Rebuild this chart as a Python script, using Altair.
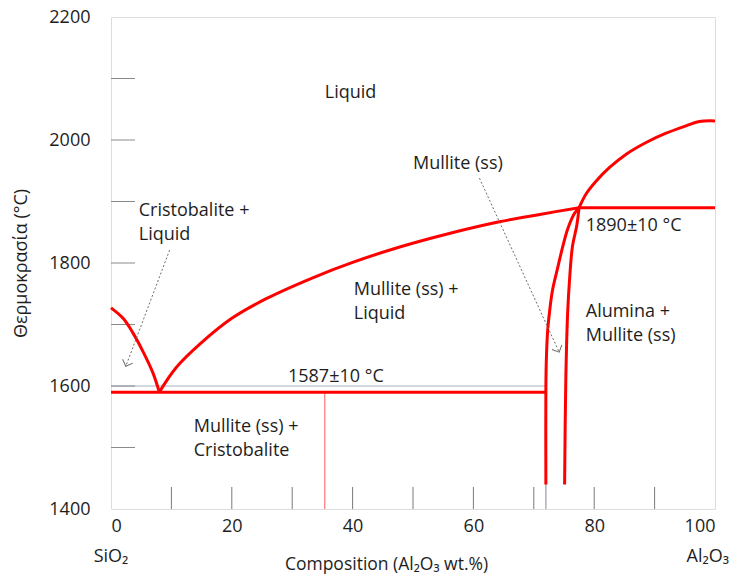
import math
import altair as alt
import pandas as pd

W, H = 604, 492
FONT = "Open Sans"
TXT = "#1E1E1E"

# ---- phase boundary curves (x = wt.% Al2O3, t = temperature °C) ----
cristo_x = [0, 2.0, 3.65, 5.3, 6.96, 8]
cristo_t = [1727, 1710, 1686, 1656, 1621, 1590]

mull_liq_x = [8, 10.8, 14.7, 20, 25.7, 33.4, 40, 47.8, 56, 64.3, 71, 77.5]
mull_liq_t = [1590, 1630, 1668, 1710, 1742, 1776, 1801, 1826, 1848, 1867, 1879, 1890]

alum_liq_x = [77.5, 78.7, 80.3, 82.5, 85.3, 88.6, 91.9, 95.2, 97.4, 100]
alum_liq_t = [1890, 1913, 1933, 1955, 1977, 1996, 2011, 2023, 2030, 2031]

sol_left_x = [77.5, 76.7, 75.6, 74.8, 73.9, 73.1, 72.6, 72.3, 72.1, 72.0, 72.0]
sol_left_t = [1890, 1880, 1855, 1827, 1790, 1756, 1720, 1691, 1650, 1600, 1440]

sol_right_x = [77.5, 77.1, 76.4, 75.9, 75.6, 75.3, 75.1]
sol_right_t = [1890, 1860, 1827, 1770, 1718, 1610, 1440]

eut_low_x = [0, 72]
eut_low_t = [1590, 1590]

eut_high_x = [77.5, 100]
eut_high_t = [1890, 1890]

# thin reference lines
grid1600_x = [0, 72]
grid1600_t = [1600, 1600]
vgrid72_x = [72, 72]
vgrid72_t = [1400, 1600]
red_thin_x = [35.4, 35.4]
red_thin_t = [1400, 1590]

# inward axis ticks
y_minor_ticks = [1500, 1600, 1700, 1800, 1900, 2000, 2100]
x_minor_ticks = [10, 20, 30, 40, 50, 60, 70, 80, 90]
x_special_tick = [72]

y_label_values = [1400, 1600, 1800, 2000, 2200]
x_label_values = [0, 20, 40, 60, 80, 100]

# region labels (position of first line)
lab_text = ["Liquid", "Mullite (ss)", "Cristobalite +\nLiquid",
            "Mullite (ss) +\nLiquid", "1587±10 °C",
            "Mullite (ss) +\nCristobalite", "1890±10 °C",
            "Alumina +\nMullite (ss)"]
lab_x = [35.4, 50.0, 4.6, 40.2, 29.3, 13.7, 78.6, 78.6]
lab_t = [2076, 1961, 1885, 1756, 1614, 1534, 1860, 1721]

# composition end members
left_end_text = ["SiO₂"]
left_end_x = [0]
right_end_text = ["Al₂O₃"]
right_end_x = [100]
end_t = [1322]

# dotted arrows
arr_x0 = [9.7, 61.0]
arr_t0 = [1821, 1938]
arr_x1 = [2.45, 74.2]
arr_t1 = [1632, 1655]

# ---- build tables ----
rows = []
for name, xs, ts in [("cristo", cristo_x, cristo_t), ("mliq", mull_liq_x, mull_liq_t),
                     ("aliq", alum_liq_x, alum_liq_t), ("sl", sol_left_x, sol_left_t),
                     ("sr", sol_right_x, sol_right_t), ("el", eut_low_x, eut_low_t),
                     ("eh", eut_high_x, eut_high_t)]:
    for i, (a, b) in enumerate(zip(xs, ts)):
        rows.append({"x": a, "t": b, "g": name, "i": i})
red_df = pd.DataFrame(rows)

def seg_df(xs, ts):
    return pd.DataFrame({"x": xs, "t": ts, "i": list(range(len(xs)))})

xs_ = alt.Scale(domain=[0, 100], nice=False, zero=False)
ys_ = alt.Scale(domain=[1400, 2200], nice=False, zero=False)

x_axis = alt.Axis(values=x_label_values, format="d", ticks=False, domain=False, grid=False,
                  labelFont=FONT, labelFontSize=18, labelColor=TXT, labelPadding=8,
                  title="Composition (Al₂O₃ wt.%)", titleFont=FONT, titleFontSize=17.5,
                  titleFontWeight="normal", titleColor=TXT, titleX=275, titleY=55,
                  titleBaseline="middle", titleAlign="center")
y_axis = alt.Axis(values=y_label_values, format="d", ticks=False, domain=False, grid=False,
                  labelFont=FONT, labelFontSize=18, labelColor=TXT, labelPadding=21,
                  title="Θερμοκρασία (°C)", titleFont=FONT, titleFontSize=18,
                  titleFontWeight="normal", titleColor=TXT, titleX=-90, titleY=H / 2,
                  titleBaseline="middle", titleAlign="center", titleAngle=-90)

def X(f="x"):
    return alt.X(f + ":Q", scale=xs_, axis=x_axis)

def Y(f="t"):
    return alt.Y(f + ":Q", scale=ys_, axis=y_axis)

layers = []

# thin gray 1600 lines
for xs, ts in [(grid1600_x, grid1600_t), (vgrid72_x, vgrid72_t)]:
    layers.append(alt.Chart(seg_df(xs, ts)).mark_line(color="#A7AEBD", strokeWidth=1)
                  .encode(x=X(), y=Y(), order="i:Q"))

# thin red line
layers.append(alt.Chart(seg_df(red_thin_x, red_thin_t)).mark_line(color="#FF5A5A", strokeWidth=1)
              .encode(x=X(), y=Y(), order="i:Q"))

# inward ticks
layers.append(alt.Chart(pd.DataFrame({"t": y_minor_ticks})).mark_rule(color="#8A8A8A", strokeWidth=1)
              .encode(y=Y(), x=alt.value(0), x2=alt.value(24)))
layers.append(alt.Chart(pd.DataFrame({"x": x_minor_ticks})).mark_rule(color="#7A7A7A", strokeWidth=1)
              .encode(x=X(), y=alt.value(H), y2=alt.value(H - 22)))
layers.append(alt.Chart(pd.DataFrame({"x": x_special_tick})).mark_rule(color="#A7AEBD", strokeWidth=1)
              .encode(x=X(), y=alt.value(H), y2=alt.value(H - 26)))

# red phase boundaries
layers.append(alt.Chart(red_df).mark_line(color="#FF0000", strokeWidth=3, interpolate="catmull-rom")
              .encode(x=X(), y=Y(), detail="g:N", order="i:Q"))

# dotted arrows
arr_rows = []
for k in range(len(arr_x0)):
    arr_rows.append({"x": arr_x0[k], "t": arr_t0[k], "a": k, "i": 0})
    arr_rows.append({"x": arr_x1[k], "t": arr_t1[k], "a": k, "i": 1})
layers.append(alt.Chart(pd.DataFrame(arr_rows)).mark_line(color="#6E6E6E", strokeWidth=1, strokeDash=[2, 2])
              .encode(x=X(), y=Y(), detail="a:N", order="i:Q"))

angs = []
for k in range(len(arr_x0)):
    dx = (arr_x1[k] - arr_x0[k]) * W / 100.0
    dy = -(arr_t1[k] - arr_t0[k]) * H / 800.0
    angs.append(math.degrees(math.atan2(dy, dx)) % 360)
head_df = pd.DataFrame({"x": arr_x1, "t": arr_t1, "ang": angs})
layers.append(alt.Chart(head_df).mark_point(shape="M-1,-1L0,0L-1,1", filled=False, color="#6E6E6E",
                                            strokeWidth=1, size=120, opacity=1)
              .encode(x=X(), y=Y(), angle=alt.Angle("ang:Q", scale=None)))

# labels
layers.append(alt.Chart(pd.DataFrame({"x": lab_x, "t": lab_t, "s": lab_text}))
              .mark_text(align="left", baseline="middle", font=FONT, fontSize=18, color=TXT,
                         lineBreak="\n", lineHeight=24)
              .encode(x=X(), y=Y(), text="s:N"))
layers.append(alt.Chart(pd.DataFrame({"x": left_end_x, "t": end_t, "s": left_end_text}))
              .mark_text(align="center", baseline="middle", font=FONT, fontSize=18, color=TXT)
              .encode(x=X(), y=Y(), text="s:N"))
layers.append(alt.Chart(pd.DataFrame({"x": right_end_x, "t": end_t, "s": right_end_text}))
              .mark_text(align="right", baseline="middle", font=FONT, fontSize=18, color=TXT, dx=14)
              .encode(x=X(), y=Y(), text="s:N"))

chart = (alt.layer(*layers)
         .properties(width=W, height=H,
                     padding={"left": 103, "top": 9, "right": 16, "bottom": 67},
                     autosize=alt.AutoSizeParams(type="none"))
         .configure_view(stroke="#000000", strokeWidth=3)
         .configure(background="white"))

chart.save("out.html", embed_options={"renderer": "svg", "actions": False})
